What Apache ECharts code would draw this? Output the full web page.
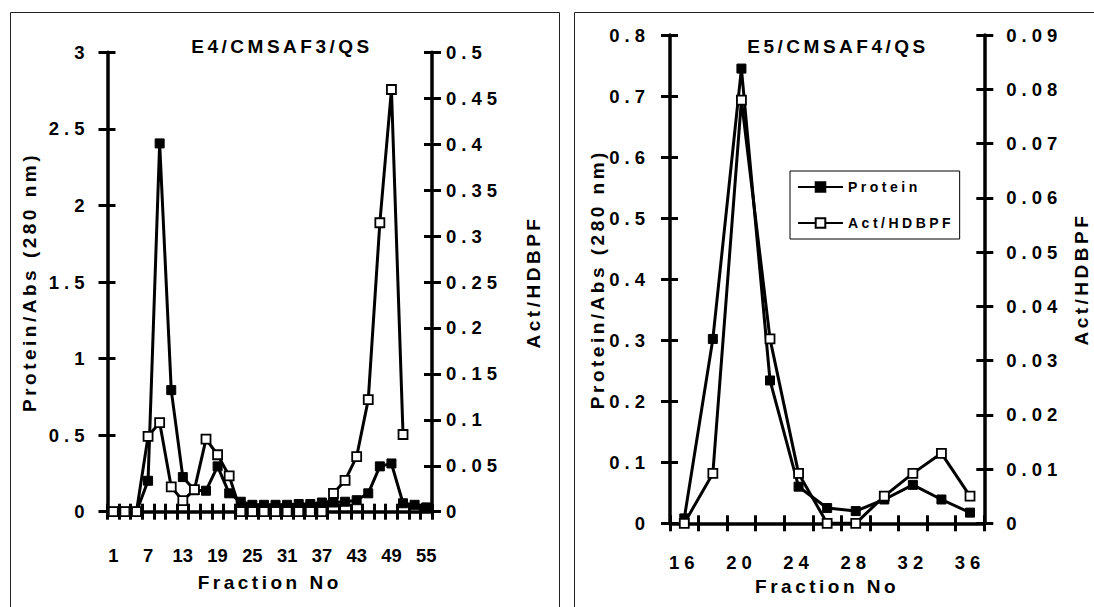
<!DOCTYPE html>
<html>
<head>
<meta charset="utf-8">
<script src="https://cdn.jsdelivr.net/npm/echarts/dist/echarts.min.js"></script>
<style>
  html, body { margin: 0; padding: 0; background: #fff; }
  #chart { width: 1094px; height: 607px; }
  #chart svg text { letter-spacing: 3.5px; }
  #chart svg text[style*="19px"] { letter-spacing: 3.5px; }
  #chart svg text[style*="18.5px"] { letter-spacing: 5px; }
  #chart svg text[style*="18.4px"] { letter-spacing: 0px; }
</style>
</head>
<body>
<div id="chart"></div>
<script>
// ---- Data ----
const leftFractions = [1, 3, 5, 7, 9, 11, 13, 15, 17, 19, 21, 23, 25, 27, 29, 31, 33, 35, 37, 39, 41, 43, 45, 47, 49, 51, 53, 55];
const leftProtein = [0, 0, 0, 0.202, 2.405, 0.794, 0.226, 0.14, 0.137, 0.296, 0.12, 0.065, 0.045, 0.045, 0.045, 0.045, 0.05, 0.05, 0.06, 0.06, 0.065, 0.075, 0.12, 0.296, 0.315, 0.055, 0.045, 0.028];
const leftAct = [0, 0, 0, 0.082, 0.097, 0.027, 0.012, 0.024, 0.079, 0.062, 0.039, 0, 0, 0, 0, 0, 0, 0, 0, 0.02, 0.034, 0.06, 0.122, 0.3145, 0.4595, 0.084, null, null];

const rightFractions = [16, 18, 20, 22, 24, 26, 28, 30, 32, 34, 36];
const rightProtein = [0.008, 0.302, 0.745, 0.234, 0.06, 0.025, 0.02, 0.039, 0.063, 0.039, 0.0175];
const rightAct = [0, 0.0092, 0.078, 0.034, 0.0092, 0, 0, 0.005, 0.0092, 0.0129, 0.005];

const leftTitle = 'E4/CMSAF3/QS';
const rightTitle = 'E5/CMSAF4/QS';
const proteinName = 'Protein';
const actName = 'Act/HDBPF';
const yLeftName = 'Protein/Abs (280 nm)';
const yRightName = 'Act/HDBPF';
const xName = 'Fraction No';

// ---- Styles ----
const FONT = "'Liberation Sans', Arial, sans-serif";
const labelStyle = { fontFamily: FONT, fontWeight: 'bold', fontSize: 18.5, color: '#000' };
const narrowLabelStyle = { fontFamily: FONT, fontWeight: 'bold', fontSize: 18.4, color: '#000' };
const nameStyle = { fontFamily: FONT, fontWeight: 'bold', fontSize: 19, color: '#000' };
const axisLine = { show: true, lineStyle: { color: '#000', width: 3.5 } };

function xAxisMain(grid, data, labelInterval, margin, nameGap, lblStyle) {
  return {
    type: 'category', gridIndex: grid, data: data, position: 'bottom',
    boundaryGap: true,
    axisLine: axisLine,
    axisTick: { show: true, inside: false, length: 8, interval: 0, lineStyle: { color: '#000', width: 3 } },
    axisLabel: Object.assign({ interval: labelInterval, margin: margin }, lblStyle),
    splitLine: { show: false },
    name: xName, nameLocation: 'middle', nameGap: nameGap, nameTextStyle: nameStyle,
    nameMoveOverlap: false
  };
}
function xAxisInner(grid, data) {
  return {
    type: 'category', gridIndex: grid, data: data, position: 'bottom',
    boundaryGap: true,
    axisLine: { show: false },
    axisTick: { show: true, inside: true, length: 8, interval: 0, lineStyle: { color: '#000', width: 3 } },
    axisLabel: { show: false }, splitLine: { show: false }
  };
}
function yAxisMain(grid, pos, max, interval, margin, name, nameGap) {
  return {
    type: 'value', gridIndex: grid, position: pos, min: 0, max: max, interval: interval,
    axisLine: axisLine,
    axisTick: { show: true, inside: false, length: 9, lineStyle: { color: '#000', width: 3 } },
    axisLabel: Object.assign({ margin: margin }, labelStyle),
    splitLine: { show: false },
    name: name, nameLocation: 'middle', nameGap: nameGap, nameRotate: 90,
    nameTextStyle: nameStyle, nameMoveOverlap: false
  };
}
function yAxisInner(grid, pos, max, interval) {
  return {
    type: 'value', gridIndex: grid, position: pos, min: 0, max: max, interval: interval,
    axisLine: { show: false },
    axisTick: { show: true, inside: true, length: 8, lineStyle: { color: '#000', width: 3 } },
    axisLabel: { show: false }, splitLine: { show: false }
  };
}
function proteinSeries(name, xi, yi, data) {
  return {
    type: 'line', name: name, xAxisIndex: xi, yAxisIndex: yi, data: data,
    symbol: 'rect', symbolSize: 9, showSymbol: true, showAllSymbol: true,
    lineStyle: { color: '#000', width: 3 },
    itemStyle: { color: '#000', borderColor: '#000', borderWidth: 1 },
    z: 3, connectNulls: false
  };
}
function actSeries(name, xi, yi, data) {
  return {
    type: 'line', name: name, xAxisIndex: xi, yAxisIndex: yi, data: data,
    symbol: 'rect', symbolSize: 9, showSymbol: true, showAllSymbol: true,
    lineStyle: { color: '#000', width: 3 },
    itemStyle: { color: '#fff', borderColor: '#000', borderWidth: 1.8 },
    z: 4, connectNulls: false
  };
}

const chart = echarts.init(document.getElementById('chart'), null, { renderer: 'svg' });
chart.setOption({
  animation: false,
  backgroundColor: '#fff',
  textStyle: { fontFamily: FONT },
  grid: [
    { left: 107.5, top: 52.3, width: 324.5, height: 459.4, containLabel: false, outerBoundsMode: 'none' },
    { left: 670, top: 35, width: 314.3, height: 488.3, containLabel: false, outerBoundsMode: 'none' }
  ],
  xAxis: [
    xAxisMain(0, leftFractions, 2, 35, 61, narrowLabelStyle),
    xAxisInner(0, leftFractions),
    {
      type: 'category', gridIndex: 0, data: leftFractions, position: 'top',
      axisLine: { show: true, lineStyle: { color: '#000', width: 1 } },
      axisTick: { show: false }, axisLabel: { show: false }, splitLine: { show: false }
    },
    xAxisMain(1, rightFractions, 1, 30, 54, labelStyle),
    xAxisInner(1, rightFractions)
  ],
  yAxis: [
    yAxisMain(0, 'left', 3, 0.5, 18, yLeftName, 69),
    yAxisMain(0, 'right', 0.5, 0.05, 14, yRightName, 92),
    yAxisInner(0, 'left', 3, 0.5),
    yAxisInner(0, 'right', 0.5, 0.05),
    yAxisMain(1, 'left', 0.8, 0.1, 20, yLeftName, 63),
    yAxisMain(1, 'right', 0.09, 0.01, 22, yRightName, 88),
    yAxisInner(1, 'left', 0.8, 0.1),
    yAxisInner(1, 'right', 0.09, 0.01)
  ],
  legend: {
    show: true, orient: 'vertical', left: 790, top: 171,
    data: [proteinName, actName],
    itemWidth: 45, itemHeight: 12, itemGap: 22,
    padding: [9, 37, 9, 7],
    backgroundColor: '#fff', borderColor: '#000', borderWidth: 1,
    textStyle: { fontFamily: FONT, fontWeight: 'bold', fontSize: 14, color: '#000' },
    selectedMode: false
  },
  series: [
    proteinSeries(proteinName, 0, 0, leftProtein),
    actSeries(actName, 0, 1, leftAct),
    proteinSeries(proteinName, 3, 4, rightProtein),
    actSeries(actName, 3, 5, rightAct)
  ],
  graphic: [
    { type: 'rect', silent: true, z: -10, shape: { x: 10.5, y: 12.5, width: 549, height: 700 },
      style: { fill: 'none', stroke: '#222', lineWidth: 1 } },
    { type: 'rect', silent: true, z: -10, shape: { x: 574.5, y: 12.5, width: 600, height: 700 },
      style: { fill: 'none', stroke: '#222', lineWidth: 1 } },
    { type: 'text', z: 100, x: 282, y: 46,
      style: { text: leftTitle, textAlign: 'center', textVerticalAlign: 'middle',
               font: "bold 19px 'Liberation Sans', Arial, sans-serif", fill: '#000' } },
    { type: 'text', z: 100, x: 838, y: 46,
      style: { text: rightTitle, textAlign: 'center', textVerticalAlign: 'middle',
               font: "bold 19px 'Liberation Sans', Arial, sans-serif", fill: '#000' } }
  ]
});
</script>
</body>
</html>
